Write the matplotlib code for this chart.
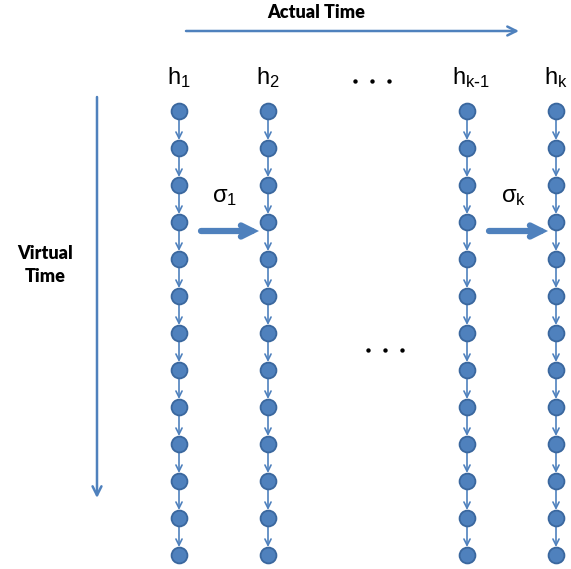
import matplotlib.pyplot as plt
import numpy as np

# chain columns (pixel-like layout coordinates)
chain_labels = ['$\\mathregular{h_1}$', '$\\mathregular{h_2}$', '$\\mathregular{h_{k\\text{-}1}}$', '$\\mathregular{h_k}$']
chain_x = [179, 268, 467, 556]
n_nodes = 13
node_top = 111
node_step = 37

# ellipsis centres (x of middle dot, y)
ellipsis_pos = [(372, 81), (385, 350)]

blue = '#4F81BD'
edge = '#3A679E'

fig = plt.figure(figsize=(5.71, 5.69), dpi=100)
ax = fig.add_axes([0, 0, 1, 1])
ax.set_xlim(0, 571)
ax.set_ylim(569, 0)
ax.axis('off')

node_y = node_top + node_step * np.arange(n_nodes)
for x in chain_x:
    for i in range(n_nodes - 1):
        ax.annotate('', xy=(x, node_y[i + 1] - 8), xytext=(x, node_y[i] + 7),
                    arrowprops=dict(arrowstyle='->', color=blue, lw=1.2,
                                    mutation_scale=11, shrinkA=0, shrinkB=0))
    ax.scatter([x] * n_nodes, node_y, s=130, color=blue, edgecolors=edge,
               linewidths=1.3, zorder=5)

# column labels
for x, lab in zip(chain_x, chain_labels):
    ax.text(x + (4 if 'k' in lab and '1' in lab else 0), 78, lab, fontsize=17,
            ha='center', va='center', family='Liberation Sans')
for cx, cy in ellipsis_pos:
    ax.scatter([cx - 17, cx, cx + 17], [cy] * 3, s=10, color='black', linewidths=0)

# actual time
ax.annotate('', xy=(519, 31), xytext=(186, 31),
            arrowprops=dict(arrowstyle='->', color=blue, lw=1.8, mutation_scale=16,
                            shrinkA=0, shrinkB=0))
ax.text(316, 12, 'Actual Time', fontsize=13, fontweight='heavy', ha='center',
        va='center', family='Lato')

# virtual time
ax.annotate('', xy=(97, 498), xytext=(97, 97),
            arrowprops=dict(arrowstyle='->', color=blue, lw=1.8, mutation_scale=16,
                            shrinkA=0, shrinkB=0))
ax.text(45, 265, 'Virtual\nTime', fontsize=13, fontweight='heavy', ha='center',
        va='center', family='Lato', linespacing=1.45)

# sigma transfers
for x0, x1, lab in [(201, 259, '$\\mathregular{\\sigma_1}$'), (489, 548, '$\\mathregular{\\sigma_k}$')]:
    ax.annotate('', xy=(x1, 231), xytext=(x0, 231),
                arrowprops=dict(arrowstyle='->', color=blue, lw=4.5, mutation_scale=20,
                                shrinkA=0, shrinkB=0, joinstyle='miter'))
    ax.text((x0 + x1) / 2 - 5, 197, lab, fontsize=17, ha='center', va='center',
            family='Liberation Sans')

fig.savefig('out.png', dpi=100)
